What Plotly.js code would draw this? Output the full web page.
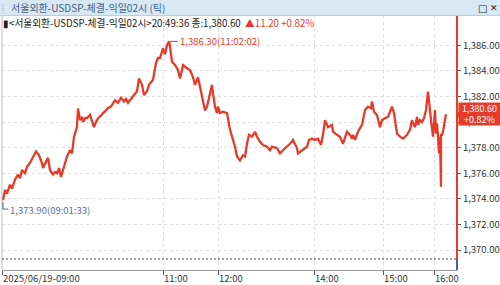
<!DOCTYPE html>
<html><head><meta charset="utf-8">
<script src="https://cdn.plot.ly/plotly-3.0.1.min.js"></script>
<style>html,body{margin:0;padding:0;background:#fff}#c{width:500px;height:285px}</style>
</head><body><div id="c"></div>
<script>
// tick sequence position (compressed tick axis) and traded price
const tickPos = [0,1,3,5,8,10,13,16,18,20,23,25,28,31,34,37,40,41,43,45,46,48,51,53,55,57,59,61,63,65,68,70,72,74,75,76,78,80,81,83,85,88,90,92,94,96,99,101,104,106,109,111,113,116,119,122,124,126,128,131,135,137,140,142,145,147,151,154,156,158,160,161,163,165,167,168,170,173,176,178,180,181,185,188,191,193,196,200,203,205,208,210,211,213,215,216,218,221,225,226,228,231,233,235,238,241,243,245,247,250,253,255,258,261,265,268,270,275,278,283,288,291,295,296,300,303,305,307,310,313,316,319,321,323,326,330,331,335,338,341,345,348,350,351,353,356,360,363,366,369,370,372,375,378,380,383,386,390,392,395,398,401,405,408,410,411,413,415,416,418,420,422,424,426,427,429,431,432,433,434,435,436,437,438,439,439,440,441,444,445];
const price = [1374.2,1373.9,1374.7,1374.4,1375.1,1374.8,1375.5,1375.9,1375.6,1376.25,1376.0,1376.5,1376.8,1377.2,1377.7,1377.4,1376.8,1376.4,1376.7,1377.0,1377.2,1376.25,1375.9,1376.1,1376.0,1376.4,1375.7,1376.25,1376.9,1377.3,1377.8,1377.55,1378.85,1379.3,1379.6,1381.05,1380.15,1380.4,1380.0,1380.3,1380.3,1380.55,1380.0,1379.6,1380.0,1380.3,1380.5,1380.7,1380.9,1381.1,1381.2,1381.45,1381.7,1381.5,1381.9,1381.6,1381.8,1381.5,1381.7,1382.0,1382.4,1383.4,1382.9,1382.1,1382.4,1382.9,1383.3,1384.6,1385.0,1385.0,1385.5,1385.75,1385.3,1386.0,1386.3,1385.9,1384.7,1384.45,1384.06,1383.4,1384.06,1384.45,1384.2,1384.06,1383.5,1382.9,1383.5,1382.1,1380.9,1381.2,1382.24,1382.9,1382.24,1381.2,1380.7,1381.2,1380.7,1380.8,1380.7,1380.15,1379.4,1378.6,1378.07,1377.3,1377.0,1377.4,1377.3,1378.3,1379.0,1378.85,1379.24,1378.85,1378.46,1378.2,1378.07,1377.8,1378.07,1377.95,1377.55,1377.95,1378.3,1378.6,1377.95,1377.55,1377.8,1377.95,1378.07,1378.6,1378.7,1378.6,1378.7,1378.2,1379.0,1380.15,1379.6,1379.77,1379.24,1379.0,1378.85,1378.3,1379.24,1379.0,1378.7,1379.0,1378.6,1379.24,1379.77,1380.94,1381.2,1381.07,1381.6,1380.8,1380.55,1379.6,1380.15,1380.3,1380.4,1381.2,1380.7,1379.1,1378.85,1378.7,1379.0,1379.4,1380.15,1379.9,1379.6,1380.4,1379.77,1380.15,1380.0,1380.3,1380.94,1382.37,1381.46,1380.15,1378.85,1379.9,1380.94,1379.1,1379.9,1378.85,1377.55,1378.85,1374.95,1379.0,1379.0,1379.24,1380.6];
const xTickVals = [0,161,216,312,381,432];
const xTickText = ["2025/06/19-09:00","11:00","12:00","14:00","15:00","16:00"];
const yTickVals = [1370,1372,1374,1376,1378,1380,1382,1384,1386];
const titleText = "서울외환-USDSP-체결-익일02시 (틱)";
const legendText = "▮&lt;서울외환-USDSP-체결-익일02시&gt;20:49:36 종:1,380.60";
const changeText = "▲11.20 +0.82%";
const lastPrice = 1380.60, lastPct = "+0.82%";
const hiPrice = 1386.30, hiTime = "11:02:02", hiPos = 168;
const loPrice = 1373.90, loTime = "09:01:33", loPos = 1;
const floorLevel = 1369.3;

const W=500,H=285,L=2,R=43,T=16,B=15;
const pw=W-L-R, ph=H-T-B;
const px = x => (x-L)/pw, py = y => (H-B-y)/ph;
const RED='#e63b2a', BLUE='#4e6fa6';
const fmt = v => v.toLocaleString('en-US',{minimumFractionDigits:2,maximumFractionDigits:2});
const FONT="Noto Sans CJK KR";

const trace = {x:tickPos, y:price, type:'scatter', mode:'lines',
  line:{color:RED,width:2.3}, hoverinfo:'skip'};

const layout = {
  width:W,height:H,margin:{l:L,r:R,t:T,b:B},
  paper_bgcolor:'#fff',plot_bgcolor:'#fff',showlegend:false,
  font:{family:FONT,size:9,color:'#333'},
  xaxis:{range:[0,pw],tickvals:xTickVals,ticktext:xTickText,ticks:'outside',ticklen:4,
    tickcolor:'#555',ticklabelposition:'outside right',showline:true,linecolor:'#999',
    showgrid:true,gridcolor:'#ddd',griddash:'3px,3px',zeroline:false,
    tickfont:{family:FONT,size:9.5,color:'#333'}},
  yaxis:{side:'right',range:[1368.44,1388.28],tickvals:yTickVals,
    ticktext:yTickVals.map(fmt),ticks:'outside',ticklen:3,tickcolor:'#555',
    showline:false,showgrid:true,gridcolor:'#ddd',griddash:'3px,3px',zeroline:false,
    tickfont:{family:FONT,size:9.5,color:'#333'}},
  shapes:[
    {type:'rect',xref:'paper',yref:'paper',x0:px(0),x1:px(W),y0:py(16),y1:py(0),
      fillcolor:'#d9e8f5',line:{width:0},layer:'above'},
    {type:'line',xref:'paper',yref:'paper',x0:px(0),x1:px(W),y0:py(15.5),y1:py(15.5),
      line:{color:'#b8cde0',width:1}},
    {type:'line',xref:'paper',yref:'paper',x0:px(3),x1:px(3),y0:py(13),y1:py(3),
      line:{color:'#9ab',width:1,dash:'1px,1px'}},
    {type:'line',xref:'paper',yref:'paper',x0:0,x1:0,y0:0,y1:1,line:{color:'#bbb',width:1}},
    {type:'line',xref:'paper',yref:'y',x0:0,x1:1,y0:floorLevel,y1:floorLevel,
      line:{color:'#444',width:1,dash:'2px,2px'}},
    {type:'line',xref:'paper',yref:'y',x0:1,x1:1,y0:floorLevel,y1:1388.28,line:{color:RED,width:2}},
    {type:'line',xref:'paper',yref:'paper',x0:1,x1:1,y0:0,y1:py(259),line:{color:'#3d63b0',width:2}},
    {type:'path',xref:'paper',yref:'y',xsizemode:'pixel',ysizemode:'pixel',xanchor:1,yanchor:lastPrice,
      path:'M-1,0 L3,4 L3,-4 Z',fillcolor:RED,line:{width:0}},
    {type:'path',xref:'x',yref:'y',xsizemode:'pixel',ysizemode:'pixel',xanchor:loPos,yanchor:loPrice,
      path:'M0,-2 V-9 H5',line:{color:BLUE,width:1}}
  ],
  annotations:[
    {xref:'paper',yref:'paper',x:px(10),y:py(7.5),xanchor:'left',yanchor:'middle',showarrow:false,
      text:titleText,font:{family:FONT,size:10,color:'#3f5f86'},borderpad:0},
    {xref:'paper',yref:'paper',x:px(482),y:py(8),xanchor:'center',yanchor:'middle',showarrow:false,
      text:'□',font:{family:'DejaVu Sans',size:10,color:'#222'}},
    {xref:'paper',yref:'paper',x:px(494),y:py(8),xanchor:'center',yanchor:'middle',showarrow:false,
      text:'✕',font:{family:'DejaVu Sans',size:9,color:'#222'}},
    {xref:'paper',yref:'paper',x:px(2),y:py(23),xanchor:'left',yanchor:'middle',showarrow:false,
      text:legendText+'  <span style="color:'+RED+'">'+changeText+'</span>',borderpad:0,
      font:{family:FONT,size:9.7,color:'#222'}},
    {xref:'x',yref:'y',x:hiPos,y:hiPrice,xanchor:'left',yanchor:'middle',showarrow:true,
      arrowhead:0,arrowwidth:1,arrowcolor:RED,ax:8,ay:0,
      text:fmt(hiPrice)+'('+hiTime+')',font:{family:FONT,size:9.5,color:RED}},
    {xref:'x',yref:'y',x:loPos,y:loPrice,xanchor:'left',yanchor:'middle',showarrow:false,
      xshift:5,yshift:-10,text:fmt(loPrice)+'('+loTime+')',font:{family:FONT,size:9.5,color:BLUE}},
    {xref:'paper',yref:'y',x:1,y:lastPrice,xanchor:'left',yanchor:'middle',showarrow:false,
      xshift:1,width:41,height:22,text:fmt(lastPrice)+'<br>'+lastPct,bgcolor:RED,borderpad:0,
      font:{family:FONT,size:9,color:'#fff'}}
  ]
};
Plotly.newPlot('c',[trace],layout,{displayModeBar:false,staticPlot:true});
</script></body></html>
